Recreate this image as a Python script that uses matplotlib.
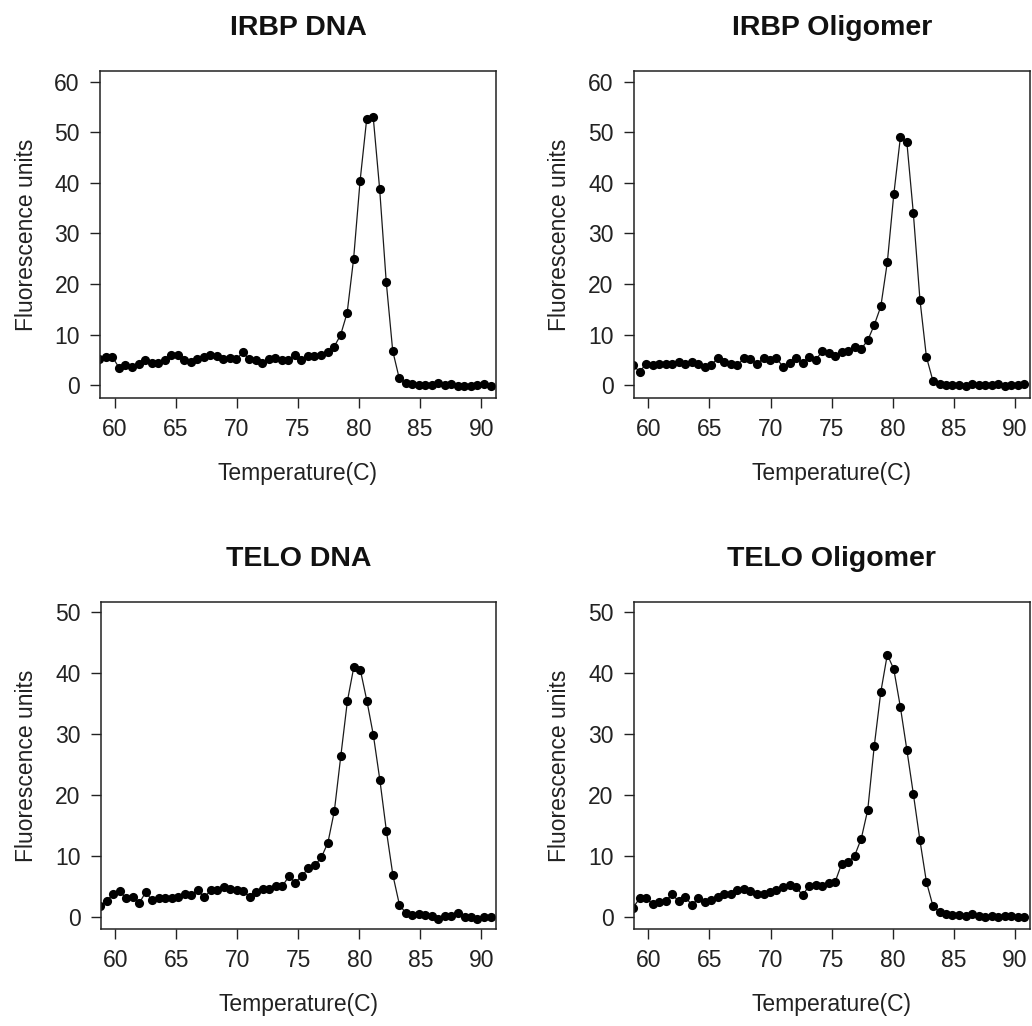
import matplotlib
matplotlib.use("Agg")
import matplotlib.pyplot as plt

plt.rcParams['font.family'] = ['Liberation Sans', 'DejaVu Sans']

temps = [58.75, 59.28, 59.82, 60.35, 60.88, 61.42, 61.95, 62.48, 63.02, 63.55,
         64.08, 64.62, 65.15, 65.68, 66.22, 66.75, 67.28, 67.82, 68.35, 68.88,
         69.42, 69.95, 70.48, 71.02, 71.55, 72.08, 72.62, 73.15, 73.68, 74.22,
         74.75, 75.28, 75.82, 76.35, 76.88, 77.42, 77.95, 78.48, 79.02, 79.55,
         80.08, 80.62, 81.15, 81.68, 82.22, 82.75, 83.28, 83.82, 84.35, 84.88,
         85.42, 85.95, 86.48, 87.02, 87.55, 88.08, 88.62, 89.15, 89.68, 90.22,
         90.75]

irbp_dna = [5.1, 5.5, 5.6, 3.5, 4.1, 3.7, 4.3, 4.9, 4.5, 4.5,
            4.9, 5.9, 5.9, 4.9, 4.7, 5.1, 5.5, 6.0, 5.7, 5.1,
            5.3, 5.1, 6.5, 5.1, 4.9, 4.5, 5.1, 5.3, 5.0, 5.0,
            5.9, 5.0, 5.7, 5.7, 6.0, 6.5, 7.6, 9.9, 14.3, 25.0,
            40.4, 52.6, 53.1, 38.8, 20.4, 6.8, 1.4, 0.5, 0.2, 0.1,
            0.1, 0.1, 0.4, 0.1, 0.2, -0.1, -0.1, -0.1, 0.1, 0.3,
            -0.2]

irbp_oligo = [4.1, 2.6, 4.3, 4.0, 4.3, 4.2, 4.2, 4.6, 4.3, 4.6,
              4.2, 3.7, 4.1, 5.3, 4.7, 4.2, 4.0, 5.3, 5.1, 4.3,
              5.3, 5.0, 5.3, 3.7, 4.5, 5.3, 4.5, 5.5, 5.0, 6.7,
              6.3, 5.8, 6.5, 6.8, 7.6, 7.2, 8.9, 11.9, 15.6, 24.3,
              37.7, 49.0, 48.0, 34.0, 16.9, 5.6, 0.9, 0.3, 0.1, 0.1,
              0.1, -0.1, 0.3, 0.1, 0.1, 0.1, 0.2, -0.1, 0.0, 0.1,
              0.3]

telo_dna = [1.9, 2.6, 3.9, 4.3, 3.1, 3.4, 2.3, 4.1, 2.8, 3.2,
            3.2, 3.2, 3.3, 3.9, 3.7, 4.4, 3.3, 4.4, 4.4, 4.9,
            4.6, 4.5, 4.3, 3.4, 4.2, 4.6, 4.7, 5.1, 5.1, 6.7,
            5.7, 6.8, 8.0, 8.5, 9.8, 12.2, 17.4, 26.4, 35.4, 41.0,
            40.5, 35.4, 29.8, 22.5, 14.1, 6.9, 2.1, 0.65, 0.4, 0.5,
            0.4, 0.2, -0.2, 0.2, 0.3, 0.65, 0.0, 0.0, -0.3, 0.1,
            0.1]

telo_oligo = [1.6, 3.1, 3.1, 2.2, 2.5, 2.7, 3.8, 2.6, 3.4, 2.0,
              3.1, 2.5, 2.9, 3.4, 3.8, 3.9, 4.4, 4.7, 4.3, 3.9,
              3.9, 4.1, 4.5, 4.9, 5.3, 5.0, 3.6, 5.2, 5.3, 5.1,
              5.7, 5.8, 8.8, 9.1, 10.1, 12.9, 17.6, 28.0, 36.9, 43.0,
              40.6, 34.4, 27.4, 20.2, 12.6, 5.8, 1.9, 0.8, 0.5, 0.4,
              0.4, 0.3, 0.5, 0.2, 0.1, 0.2, 0.1, 0.2, 0.2, 0.1,
              0.0]

titles = ["IRBP DNA", "IRBP Oligomer", "TELO DNA", "TELO Oligomer"]
series = [irbp_dna, irbp_oligo, telo_dna, telo_oligo]
xticks = [60, 65, 70, 75, 80, 85, 90]
yticks_top = [0, 10, 20, 30, 40, 50, 60]
yticks_bottom = [0, 10, 20, 30, 40, 50]

W, H = 1032, 1026
fig = plt.figure(figsize=(W / 100, H / 100), dpi=100)

# axes boxes in pixel coords: (left, top, right, bottom)
boxes = [(100, 71, 496, 398.3), (633.7, 71, 1029.7, 398.3),
         (100.7, 601.7, 496, 929), (633.7, 601.7, 1029.7, 929)]
ylims = [(-2.57, 62.1), (-2.57, 62.1), (-1.9, 51.65), (-1.9, 51.65)]

for i, (title, vals) in enumerate(zip(titles, series)):
    l, t, r, b = boxes[i]
    ax = fig.add_axes([l / W, 1 - b / H, (r - l) / W, (b - t) / H])
    ax.plot(temps, vals, color='#1a1a1a', lw=0.9, marker='o', ms=6.6,
            markerfacecolor='black', markeredgecolor='black', markeredgewidth=0)
    ax.set_xlim(58.8, 91.2)
    ax.set_ylim(*ylims[i])
    ax.set_xticks(xticks)
    ax.set_yticks(yticks_top if i < 2 else yticks_bottom)
    ax.tick_params(direction='out', length=7.5, width=1.0, pad=7,
                   labelsize=16.5, colors='#222222', labelcolor='#222222')
    for sp in ax.spines.values():
        sp.set_linewidth(1.1)
        sp.set_color('#222222')
    ax.set_title(title, fontsize=20.5, fontweight='bold', pad=26, color='#111111')
    ax.set_xlabel("Temperature(C)", fontsize=16.5, labelpad=15, color='#222222')
    ax.set_ylabel("Fluorescence units", fontsize=16.5, labelpad=12, color='#222222')

fig.savefig("out.png", dpi=100)
